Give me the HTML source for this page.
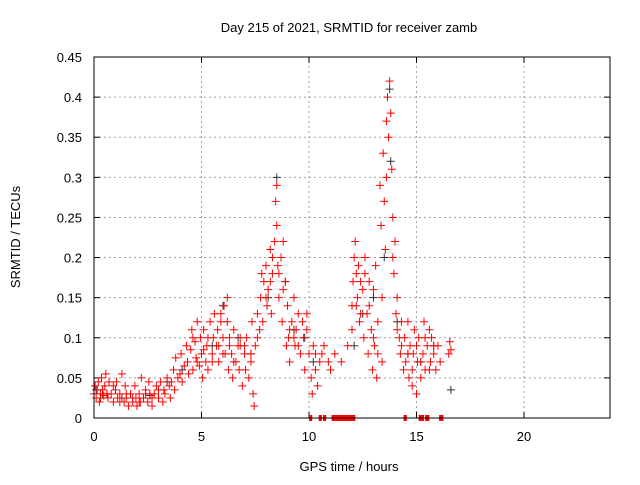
<!DOCTYPE html>
<html><head><meta charset="utf-8"><style>
body{margin:0;background:#fff}
svg text{font-family:"Liberation Sans",sans-serif;font-size:13px;fill:#000}
</style></head><body>
<svg id="chart" width="640" height="480" xmlns="http://www.w3.org/2000/svg">
<rect width="640" height="480" fill="#fff"/>
<g id="grid"></g>
<g id="ticks"></g>
<g id="marks"></g>
<rect x="94" y="57" width="516" height="361" fill="none" stroke="#000" stroke-width="1"/>
<text x="349" y="32" text-anchor="middle">Day 215 of 2021, SRMTID for receiver zamb</text>
<text x="349" y="471" text-anchor="middle">GPS time / hours</text>
<text x="20" y="237" text-anchor="middle" transform="rotate(-90 20 237)">SRMTID / TECUs</text>
</svg>
<script>
const xTicks=[0,5,10,15,20];
const yTicks=[0,0.05,0.1,0.15,0.2,0.25,0.3,0.35,0.4,0.45];
const yTickLabels=["0","0.05","0.1","0.15","0.2","0.25","0.3","0.35","0.4","0.45"];
const redTimes=[
0.0,0.05,0.1,0.15,0.2,0.25,0.3,0.35,0.4,0.45,
0.5,0.55,0.6,0.65,0.7,0.8,0.9,1.0,1.05,1.1,
1.2,1.3,1.4,1.45,1.5,1.6,1.7,1.8,1.9,1.95,
2.0,2.1,2.15,2.2,2.3,2.4,2.5,2.55,2.6,2.7,
2.8,2.9,3.0,3.1,3.2,3.25,3.3,3.4,3.5,3.55,
3.6,3.7,3.75,3.8,3.9,4.0,4.05,4.1,4.2,4.3,
4.35,4.4,4.5,4.55,4.6,4.7,4.75,4.8,4.9,4.95,
5.0,5.05,5.1,5.2,5.25,5.3,5.4,5.5,5.55,5.6,
5.7,5.75,5.8,5.9,6.0,6.05,6.1,6.2,6.25,6.3,
6.4,6.45,6.5,6.6,6.7,6.75,6.8,6.9,7.0,7.05,
7.1,7.2,7.3,7.35,7.4,7.45,7.5,7.6,7.7,7.75,
7.8,7.85,7.9,8.0,8.05,8.1,8.2,8.25,8.3,8.4,
8.45,8.5,8.5,8.55,8.6,8.7,8.75,8.8,8.9,8.95,
9.0,9.05,9.1,9.2,9.3,9.35,9.4,9.5,9.6,9.7,
9.75,9.8,9.9,10.0,10.1,10.15,10.2,10.3,10.4,10.5,
10.6,10.7,10.9,11.0,11.2,11.5,11.8,12.0,12.05,12.1,
12.15,12.2,12.25,12.3,12.35,12.4,12.5,12.55,12.6,12.7,
12.75,12.8,12.9,12.95,13.0,13.05,13.1,13.15,13.2,13.3,
13.35,13.4,13.45,13.5,13.55,13.6,13.65,13.7,13.75,13.8,
13.85,13.9,13.95,14.0,14.05,14.1,14.2,14.25,14.3,14.4,
14.45,14.5,14.6,14.65,14.7,14.8,14.85,14.9,15.0,15.05,
15.1,15.2,15.3,15.35,15.4,15.5,15.6,15.65,15.7,15.8,
15.9,16.0,16.1,16.5,16.55,16.6,6.2,5.9,8.3,13.6,
0.3,0.6,0.9,1.2,1.5,1.8,2.1,2.4,2.7,3.0,
4.6,4.8,5.1,5.3,5.5,5.8,6.0,6.3,6.5,6.8,
7.0,7.3,7.6,8.0,8.2,8.6,8.8,9.1,9.3,9.5,
12.2,12.4,12.6,12.8,13.0,13.2,13.4,13.9,14.1,14.3,
14.6,14.8,15.0,15.2,15.4,15.6,15.8,9.9,10.3,12.0];
const redValues=[
0.03,0.04,0.025,0.035,0.045,0.02,0.03,0.05,0.035,0.028,
0.04,0.055,0.03,0.025,0.045,0.03,0.02,0.035,0.045,0.025,
0.03,0.055,0.02,0.04,0.025,0.015,0.03,0.02,0.04,0.025,
0.015,0.03,0.02,0.05,0.025,0.035,0.02,0.045,0.03,0.015,
0.03,0.04,0.025,0.045,0.02,0.035,0.03,0.05,0.04,0.025,
0.045,0.06,0.035,0.075,0.05,0.055,0.08,0.045,0.065,0.09,
0.07,0.055,0.085,0.11,0.06,0.095,0.075,0.12,0.065,0.1,
0.08,0.05,0.11,0.07,0.09,0.06,0.12,0.08,0.1,0.13,
0.09,0.11,0.07,0.12,0.1,0.14,0.08,0.12,0.06,0.1,
0.08,0.05,0.11,0.07,0.09,0.06,0.1,0.04,0.08,0.06,
0.1,0.05,0.07,0.12,0.03,0.015,0.09,0.13,0.11,0.15,
0.18,0.12,0.17,0.19,0.14,0.16,0.21,0.13,0.18,0.22,
0.27,0.29,0.24,0.19,0.15,0.2,0.12,0.22,0.17,0.09,
0.14,0.1,0.07,0.12,0.15,0.09,0.11,0.13,0.08,0.12,
0.1,0.06,0.13,0.08,0.05,0.03,0.09,0.06,0.04,0.07,
0.08,0.09,0.07,0.06,0.08,0.07,0.09,0.11,0.17,0.2,
0.22,0.18,0.15,0.19,0.12,0.17,0.16,0.1,0.18,0.13,
0.08,0.14,0.11,0.06,0.16,0.09,0.19,0.05,0.12,0.29,
0.24,0.15,0.33,0.27,0.21,0.37,0.4,0.35,0.42,0.38,
0.31,0.25,0.18,0.22,0.13,0.15,0.1,0.08,0.12,0.06,
0.1,0.07,0.12,0.05,0.09,0.04,0.08,0.11,0.03,0.07,
0.1,0.05,0.08,0.12,0.06,0.09,0.11,0.07,0.1,0.08,
0.06,0.09,0.07,0.08,0.095,0.085,0.15,0.13,0.2,0.3,
0.025,0.03,0.04,0.02,0.03,0.025,0.02,0.03,0.025,0.035,
0.1,0.07,0.085,0.1,0.07,0.09,0.08,0.09,0.07,0.09,
0.09,0.08,0.1,0.15,0.17,0.18,0.16,0.11,0.1,0.09,
0.14,0.13,0.2,0.17,0.1,0.08,0.07,0.2,0.11,0.09,
0.08,0.06,0.09,0.07,0.1,0.06,0.09,0.11,0.08,0.14];
const blackTimes=[0.1,0.4,1.3,2.6,3.4,4.1,5.5,6.0,6.7,7.3,8.1,8.5,8.9,9.3,9.8,10.2,12.1,12.5,13.0,13.5,13.75,13.8,14.1,14.6,15.2,15.8,16.6];
const blackValues=[0.035,0.03,0.025,0.028,0.045,0.06,0.09,0.14,0.1,0.08,0.15,0.3,0.17,0.11,0.1,0.07,0.09,0.13,0.15,0.2,0.41,0.32,0.12,0.08,0.07,0.09,0.035];
const gapStarts=[10.0,10.45,10.65,11.05,14.4,15.1,15.4,16.05];
const gapEnds=[10.15,10.6,10.8,12.15,14.55,15.35,15.6,16.25];
const NS="http://www.w3.org/2000/svg";
const X0=94,X1=610,Y0=418,Y1=57,XMAX=24,YMAX=0.45;
function xs(v){return X0+(X1-X0)*v/XMAX}
function ys(v){return Y0-(Y0-Y1)*v/YMAX}
function mk(tag,attrs,parent){const e=document.createElementNS(NS,tag);for(const k in attrs)e.setAttribute(k,attrs[k]);parent.appendChild(e);return e}
const grid=document.getElementById('grid'),ticks=document.getElementById('ticks'),marks=document.getElementById('marks');
xTicks.forEach(t=>{const x=xs(t);
 if(t>0){const g=mk('line',{x1:x,y1:Y0,x2:x,y2:Y1,stroke:'#a0a0a0','stroke-dasharray':'2,3'},grid);
 
 }
 mk('line',{x1:x,y1:Y0,x2:x,y2:Y0-6,stroke:'#000'},ticks);mk('line',{x1:x,y1:Y1,x2:x,y2:Y1+6,stroke:'#000'},ticks);
 const l=mk('text',{x:x,y:Y0+23,'text-anchor':'middle'},ticks);l.textContent=t;
 
 });
yTicks.forEach((t,i)=>{const y=ys(t);
 if(i>0&&i<yTicks.length-1){const g=mk('line',{x1:X0,y1:y,x2:X1,y2:y,stroke:'#a0a0a0','stroke-dasharray':'2,3'},grid);
 
 }
 mk('line',{x1:X0,y1:y,x2:X0+6,y2:y,stroke:'#000'},ticks);mk('line',{x1:X1,y1:y,x2:X1-6,y2:y,stroke:'#000'},ticks);
 const l=mk('text',{x:X0-12,y:y+5,'text-anchor':'end'},ticks);l.textContent=yTickLabels[i];
 
 });
function plus(t,v,col,name){const x=xs(t),y=ys(v);
 const p=mk('path',{d:`M${x-4},${y}h8M${x},${y-4}v8`,stroke:col,'stroke-width':1,fill:'none'},marks);
 
 }
blackTimes.forEach((t,i)=>plus(t,blackValues[i],'#333','black-point'));
redTimes.forEach((t,i)=>plus(t,redValues[i],'#f00','red-point'));
gapStarts.forEach((s,i)=>{const r=mk('rect',{x:xs(s),y:Y0-3,width:Math.max(3,xs(gapEnds[i])-xs(s)),height:6,fill:'#f00'},marks);
 
 });
</script>
</body></html>
